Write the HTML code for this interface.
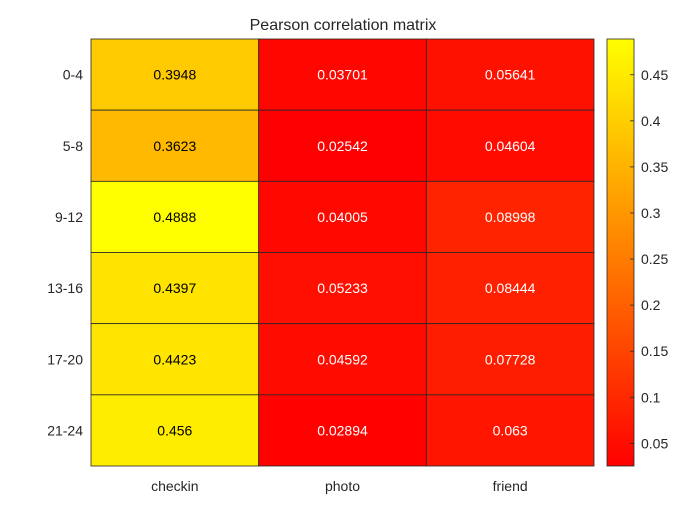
<!DOCTYPE html>
<html><head><meta charset="utf-8"><style>
body{margin:0;background:#fff}
text{font-family:"Liberation Sans",Arial,sans-serif}
</style></head><body>
<svg id="c" width="700" height="525" xmlns="http://www.w3.org/2000/svg">
<rect width="700" height="525" fill="#fff"/>
<text x="343" y="30" font-size="16" text-anchor="middle" fill="#262626">Pearson correlation matrix</text>
<g id="cells"></g>
<g id="cb"></g>
</svg>
<script>
const rowLabels=["0-4","5-8","9-12","13-16","17-20","21-24"];
const colLabels=["checkin","photo","friend"];
const checkinVals=[0.3948,0.3623,0.4888,0.4397,0.4423,0.456];
const photoVals=[0.03701,0.02542,0.04005,0.05233,0.04592,0.02894];
const friendVals=[0.05641,0.04604,0.08998,0.08444,0.07728,0.063];
const cbTicks=[0.05,0.1,0.15,0.2,0.25,0.3,0.35,0.4,0.45];
const cbTickLabels=["0.05","0.1","0.15","0.2","0.25","0.3","0.35","0.4","0.45"];
const labelText=["0.3948","0.3623","0.4888","0.4397","0.4423","0.456","0.03701","0.02542","0.04005","0.05233","0.04592","0.02894","0.05641","0.04604","0.08998","0.08444","0.07728","0.063"];
const NS="http://www.w3.org/2000/svg";
const X0=91,X1=594,Y0=39,Y1=466;
const cols=[checkinVals,photoVals,friendVals];
const all=cols.flat();const vmin=Math.min(...all),vmax=Math.max(...all);
const cw=(X1-X0)/colLabels.length,rh=(Y1-Y0)/rowLabels.length;
function colr(v){const g=Math.round(255*(v-vmin)/(vmax-vmin));return `rgb(255,${g},0)`;}
function mk(t,a,p){const e=document.createElementNS(NS,t);for(const k in a)e.setAttribute(k,a[k]);p.appendChild(e);return e;}
const cells=document.getElementById('cells');
cols.forEach((vals,j)=>{vals.forEach((v,i)=>{
 const r=mk('rect',{x:X0+j*cw,y:Y0+i*rh,width:cw,height:rh,fill:colr(v),stroke:'#262626','stroke-width':0.8},cells);
 
 
 const t=mk('text',{x:X0+(j+0.5)*cw,y:Y0+(i+0.5)*rh+5,'font-size':14,'text-anchor':'middle',fill:(v-vmin)/(vmax-vmin)>0.5?'#000':'#fff'},cells);
 t.textContent=labelText[j*vals.length+i];
 
 
});});
rowLabels.forEach((l,i)=>{const t=mk('text',{x:X0-8,y:Y0+(i+0.5)*rh+5,'font-size':14,'text-anchor':'end',fill:'#262626'},cells);t.textContent=l;
 
 });
colLabels.forEach((l,j)=>{const t=mk('text',{x:X0+(j+0.5)*cw,y:Y1+25,'font-size':14,'text-anchor':'middle',fill:'#262626'},cells);t.textContent=l;
 
 });
const cb=document.getElementById('cb');const CX0=607,CX1=634;
const defs=mk('defs',{},cb);const lg=mk('linearGradient',{id:'g',x1:0,y1:1,x2:0,y2:0},defs);
mk('stop',{offset:0,'stop-color':'#ff0000'},lg);mk('stop',{offset:1,'stop-color':'#ffff00'},lg);
const bar=mk('rect',{x:CX0,y:Y0,width:CX1-CX0,height:Y1-Y0,fill:'url(#g)',stroke:'#262626','stroke-width':0.8},cb);


const cy=v=>Y1-(v-vmin)/(vmax-vmin)*(Y1-Y0);
cbTicks.forEach((v,i)=>{const y=cy(v);mk('line',{x1:CX1-4,x2:CX1,y1:y,y2:y,stroke:'#262626','stroke-width':0.8},cb);
 const t=mk('text',{x:CX1+7,y:y+5,'font-size':14,fill:'#262626'},cb);t.textContent=cbTickLabels[i];
 
 });
</script>
</body></html>
